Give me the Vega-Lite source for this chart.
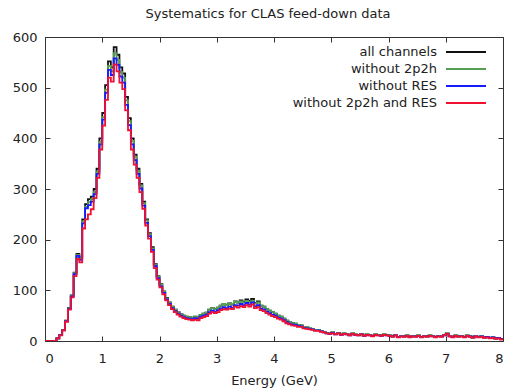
{
  "$schema": "https://vega.github.io/schema/vega-lite/v6.json",
  "width": 458,
  "height": 304,
  "autosize": {"type": "none"},
  "padding": {"left": 45, "top": 37, "right": 5, "bottom": 48},
  "background": "white",
  "title": {"text": "Systematics for CLAS feed-down data", "anchor": "middle", "frame": "group", "baseline": "alphabetic", "offset": 19, "dx": -6, "dy": 19, "font": "DejaVu Sans", "fontSize": 13, "fontWeight": "normal", "color": "#222"},
  "config": {
    "view": {"stroke": "#333", "strokeWidth": 1},
    "axis": {"labelFont": "DejaVu Sans", "labelFontSize": 13, "labelColor": "#222", "titleFont": "DejaVu Sans", "titleFontSize": 13, "titleFontWeight": "normal", "titleColor": "#222", "grid": false, "domain": false, "tickColor": "#333", "tickSize": -5, "tickWidth": 1}
  },
  "data": {"values": [
    {"E":0.00,"a":0,"g":0,"b":0,"r":0},
    {"E":0.05,"a":0,"g":0,"b":0,"r":0},
    {"E":0.10,"a":0,"g":0,"b":0,"r":0},
    {"E":0.15,"a":0,"g":0,"b":0,"r":0},
    {"E":0.20,"a":5,"g":5,"b":5,"r":5},
    {"E":0.25,"a":12,"g":12,"b":12,"r":11},
    {"E":0.30,"a":22,"g":22,"b":21,"r":21},
    {"E":0.35,"a":40,"g":40,"b":39,"r":38},
    {"E":0.40,"a":65,"g":64,"b":63,"r":62},
    {"E":0.45,"a":90,"g":89,"b":88,"r":86},
    {"E":0.50,"a":135,"g":134,"b":132,"r":128},
    {"E":0.55,"a":172,"g":170,"b":168,"r":162},
    {"E":0.60,"a":165,"g":164,"b":160,"r":155},
    {"E":0.65,"a":240,"g":236,"b":232,"r":222},
    {"E":0.70,"a":270,"g":265,"b":262,"r":240},
    {"E":0.75,"a":280,"g":274,"b":268,"r":250},
    {"E":0.80,"a":285,"g":280,"b":275,"r":260},
    {"E":0.85,"a":300,"g":294,"b":290,"r":282},
    {"E":0.90,"a":340,"g":334,"b":330,"r":322},
    {"E":0.95,"a":400,"g":393,"b":388,"r":378},
    {"E":1.00,"a":450,"g":442,"b":437,"r":425},
    {"E":1.05,"a":505,"g":496,"b":490,"r":476},
    {"E":1.10,"a":552,"g":543,"b":535,"r":520},
    {"E":1.15,"a":540,"g":532,"b":525,"r":512},
    {"E":1.20,"a":580,"g":568,"b":558,"r":546},
    {"E":1.25,"a":565,"g":555,"b":545,"r":532},
    {"E":1.30,"a":540,"g":531,"b":522,"r":510},
    {"E":1.35,"a":528,"g":520,"b":510,"r":497},
    {"E":1.40,"a":482,"g":475,"b":466,"r":455},
    {"E":1.45,"a":440,"g":434,"b":426,"r":416},
    {"E":1.50,"a":400,"g":395,"b":388,"r":378},
    {"E":1.55,"a":368,"g":364,"b":357,"r":348},
    {"E":1.60,"a":340,"g":336,"b":330,"r":322},
    {"E":1.65,"a":310,"g":307,"b":301,"r":294},
    {"E":1.70,"a":275,"g":272,"b":267,"r":261},
    {"E":1.75,"a":240,"g":238,"b":233,"r":228},
    {"E":1.80,"a":213,"g":211,"b":207,"r":202},
    {"E":1.85,"a":185,"g":183,"b":180,"r":176},
    {"E":1.90,"a":152,"g":151,"b":148,"r":144},
    {"E":1.95,"a":128,"g":127,"b":124,"r":121},
    {"E":2.00,"a":112,"g":111,"b":108,"r":106},
    {"E":2.05,"a":98,"g":97,"b":95,"r":92},
    {"E":2.10,"a":85,"g":84,"b":82,"r":80},
    {"E":2.15,"a":76,"g":75,"b":73,"r":71},
    {"E":2.20,"a":68,"g":68,"b":65,"r":63},
    {"E":2.25,"a":62,"g":62,"b":59,"r":57},
    {"E":2.30,"a":57,"g":57,"b":54,"r":52},
    {"E":2.35,"a":53,"g":53,"b":50,"r":48},
    {"E":2.40,"a":50,"g":50,"b":47,"r":45},
    {"E":2.45,"a":48,"g":48,"b":45,"r":43},
    {"E":2.50,"a":47,"g":47,"b":44,"r":42},
    {"E":2.55,"a":46,"g":46,"b":43,"r":41},
    {"E":2.60,"a":48,"g":48,"b":45,"r":42},
    {"E":2.65,"a":47,"g":47,"b":44,"r":41},
    {"E":2.70,"a":51,"g":51,"b":48,"r":45},
    {"E":2.75,"a":54,"g":54,"b":50,"r":47},
    {"E":2.80,"a":56,"g":56,"b":52,"r":49},
    {"E":2.85,"a":62,"g":62,"b":57,"r":54},
    {"E":2.90,"a":65,"g":65,"b":60,"r":57},
    {"E":2.95,"a":63,"g":63,"b":58,"r":55},
    {"E":3.00,"a":66,"g":66,"b":61,"r":57},
    {"E":3.05,"a":70,"g":70,"b":64,"r":61},
    {"E":3.10,"a":73,"g":73,"b":67,"r":63},
    {"E":3.15,"a":71,"g":71,"b":65,"r":62},
    {"E":3.20,"a":74,"g":74,"b":68,"r":64},
    {"E":3.25,"a":72,"g":72,"b":66,"r":63},
    {"E":3.30,"a":78,"g":77,"b":71,"r":68},
    {"E":3.35,"a":76,"g":76,"b":70,"r":66},
    {"E":3.40,"a":80,"g":78,"b":73,"r":69},
    {"E":3.45,"a":77,"g":76,"b":71,"r":67},
    {"E":3.50,"a":82,"g":79,"b":75,"r":71},
    {"E":3.55,"a":79,"g":77,"b":72,"r":68},
    {"E":3.60,"a":83,"g":79,"b":76,"r":72},
    {"E":3.65,"a":75,"g":74,"b":69,"r":65},
    {"E":3.70,"a":78,"g":76,"b":71,"r":67},
    {"E":3.75,"a":70,"g":70,"b":64,"r":61},
    {"E":3.80,"a":68,"g":68,"b":62,"r":59},
    {"E":3.85,"a":63,"g":63,"b":58,"r":55},
    {"E":3.90,"a":60,"g":60,"b":55,"r":52},
    {"E":3.95,"a":57,"g":57,"b":52,"r":49},
    {"E":4.00,"a":54,"g":54,"b":50,"r":47},
    {"E":4.05,"a":50,"g":50,"b":46,"r":44},
    {"E":4.10,"a":48,"g":48,"b":44,"r":42},
    {"E":4.15,"a":44,"g":44,"b":41,"r":39},
    {"E":4.20,"a":40,"g":40,"b":37,"r":35},
    {"E":4.25,"a":37,"g":37,"b":34,"r":33},
    {"E":4.30,"a":35,"g":35,"b":33,"r":31},
    {"E":4.35,"a":34,"g":34,"b":32,"r":30},
    {"E":4.40,"a":32,"g":32,"b":30,"r":28},
    {"E":4.45,"a":31,"g":31,"b":29,"r":28},
    {"E":4.50,"a":28,"g":28,"b":26,"r":25},
    {"E":4.55,"a":27,"g":27,"b":25,"r":24},
    {"E":4.60,"a":25,"g":25,"b":24,"r":23},
    {"E":4.65,"a":24,"g":24,"b":23,"r":22},
    {"E":4.70,"a":22,"g":22,"b":21,"r":20},
    {"E":4.75,"a":22,"g":22,"b":21,"r":20},
    {"E":4.80,"a":20,"g":20,"b":19,"r":18},
    {"E":4.85,"a":18,"g":18,"b":17,"r":17},
    {"E":4.90,"a":16,"g":16,"b":15,"r":15},
    {"E":4.95,"a":15,"g":15,"b":14,"r":14},
    {"E":5.00,"a":17,"g":17,"b":16,"r":15},
    {"E":5.05,"a":14,"g":14,"b":13,"r":13},
    {"E":5.10,"a":16,"g":16,"b":15,"r":15},
    {"E":5.15,"a":13,"g":13,"b":12,"r":12},
    {"E":5.20,"a":15,"g":15,"b":14,"r":14},
    {"E":5.25,"a":14,"g":14,"b":13,"r":13},
    {"E":5.30,"a":12,"g":12,"b":11,"r":11},
    {"E":5.35,"a":15,"g":15,"b":14,"r":14},
    {"E":5.40,"a":13,"g":13,"b":12,"r":12},
    {"E":5.45,"a":12,"g":12,"b":11,"r":11},
    {"E":5.50,"a":14,"g":14,"b":13,"r":13},
    {"E":5.55,"a":11,"g":11,"b":10,"r":10},
    {"E":5.60,"a":13,"g":13,"b":12,"r":12},
    {"E":5.65,"a":12,"g":12,"b":11,"r":11},
    {"E":5.70,"a":10,"g":10,"b":10,"r":9},
    {"E":5.75,"a":13,"g":13,"b":12,"r":12},
    {"E":5.80,"a":12,"g":12,"b":11,"r":11},
    {"E":5.85,"a":11,"g":11,"b":10,"r":10},
    {"E":5.90,"a":13,"g":13,"b":12,"r":12},
    {"E":5.95,"a":12,"g":12,"b":11,"r":11},
    {"E":6.00,"a":11,"g":11,"b":10,"r":10},
    {"E":6.05,"a":9,"g":9,"b":9,"r":8},
    {"E":6.10,"a":12,"g":12,"b":11,"r":11},
    {"E":6.15,"a":8,"g":8,"b":8,"r":7},
    {"E":6.20,"a":10,"g":10,"b":9,"r":9},
    {"E":6.25,"a":9,"g":9,"b":9,"r":8},
    {"E":6.30,"a":11,"g":11,"b":10,"r":10},
    {"E":6.35,"a":8,"g":8,"b":8,"r":7},
    {"E":6.40,"a":10,"g":10,"b":9,"r":9},
    {"E":6.45,"a":9,"g":9,"b":9,"r":8},
    {"E":6.50,"a":11,"g":11,"b":10,"r":10},
    {"E":6.55,"a":8,"g":8,"b":8,"r":7},
    {"E":6.60,"a":10,"g":10,"b":9,"r":9},
    {"E":6.65,"a":9,"g":9,"b":9,"r":8},
    {"E":6.70,"a":11,"g":11,"b":10,"r":10},
    {"E":6.75,"a":10,"g":10,"b":9,"r":9},
    {"E":6.80,"a":8,"g":8,"b":8,"r":7},
    {"E":6.85,"a":10,"g":10,"b":9,"r":9},
    {"E":6.90,"a":9,"g":9,"b":9,"r":8},
    {"E":6.95,"a":12,"g":12,"b":11,"r":11},
    {"E":7.00,"a":15,"g":15,"b":14,"r":14},
    {"E":7.05,"a":10,"g":10,"b":9,"r":9},
    {"E":7.10,"a":8,"g":8,"b":8,"r":7},
    {"E":7.15,"a":11,"g":11,"b":10,"r":10},
    {"E":7.20,"a":9,"g":9,"b":9,"r":8},
    {"E":7.25,"a":10,"g":10,"b":9,"r":9},
    {"E":7.30,"a":8,"g":8,"b":8,"r":7},
    {"E":7.35,"a":11,"g":11,"b":10,"r":10},
    {"E":7.40,"a":9,"g":9,"b":9,"r":8},
    {"E":7.45,"a":7,"g":7,"b":7,"r":6},
    {"E":7.50,"a":10,"g":10,"b":9,"r":9},
    {"E":7.55,"a":8,"g":8,"b":8,"r":7},
    {"E":7.60,"a":9,"g":9,"b":9,"r":8},
    {"E":7.65,"a":7,"g":7,"b":7,"r":6},
    {"E":7.70,"a":8,"g":8,"b":8,"r":7},
    {"E":7.75,"a":6,"g":6,"b":6,"r":5},
    {"E":7.80,"a":7,"g":7,"b":7,"r":6},
    {"E":7.85,"a":5,"g":5,"b":5,"r":4},
    {"E":7.90,"a":6,"g":6,"b":6,"r":5},
    {"E":7.95,"a":4,"g":4,"b":4,"r":3},
    {"E":8.00,"a":4,"g":4,"b":4,"r":3}
  ]},
  "transform": [{"fold": ["a", "g", "b", "r"], "as": ["series", "value"]}],
  "layer": [
    {
      "mark": {"type": "line", "interpolate": "step-after", "strokeWidth": 1.8, "clip": true},
      "encoding": {
        "x": {"field": "E", "type": "quantitative", "scale": {"domain": [0, 8], "nice": false, "zero": false},
              "axis": {"values": [0,1,2,3,4,5,6,7,8], "format": "d", "title": "Energy (GeV)", "labelPadding": 16, "titlePadding": 9}},
        "y": {"field": "value", "type": "quantitative", "scale": {"domain": [0, 600], "nice": false},
              "axis": {"values": [0,100,200,300,400,500,600], "title": null, "labelPadding": 13}},
        "color": {"field": "series", "type": "nominal",
                  "scale": {"domain": ["a", "g", "b", "r"], "range": ["#111111", "#55a055", "#1a1aff", "#f01030"]},
                  "legend": {"title": null, "orient": "none", "legendX": 414.5, "legendY": 8.5, "padding": 0,
                             "symbolType": "M-5,0H5", "symbolSize": 64, "symbolStrokeWidth": 2, "symbolFillColor": "transparent", "rowPadding": 3,
                             "labelAlign": "right", "labelOffset": -35.5, "labelFont": "DejaVu Sans", "labelFontSize": 13, "labelColor": "#222",
                             "labelExpr": "{'a': 'all channels', 'g': 'without 2p2h', 'b': 'without RES', 'r': 'without 2p2h and RES'}[datum.value]"}},
        "order": {"field": "E", "type": "quantitative"}
      }
    },
    {
      "mark": {"type": "line", "strokeOpacity": 0},
      "encoding": {
        "x": {"field": "E", "type": "quantitative", "axis": {"orient": "top", "values": [0,1,2,3,4,5,6,7,8], "labels": false, "title": null}},
        "y": {"field": "value", "type": "quantitative", "axis": {"orient": "right", "values": [0,100,200,300,400,500,600], "labels": false, "title": null}},
        "detail": {"field": "series", "type": "nominal"}
      }
    }
  ],
  "resolve": {"axis": {"x": "independent", "y": "independent"}}
}
